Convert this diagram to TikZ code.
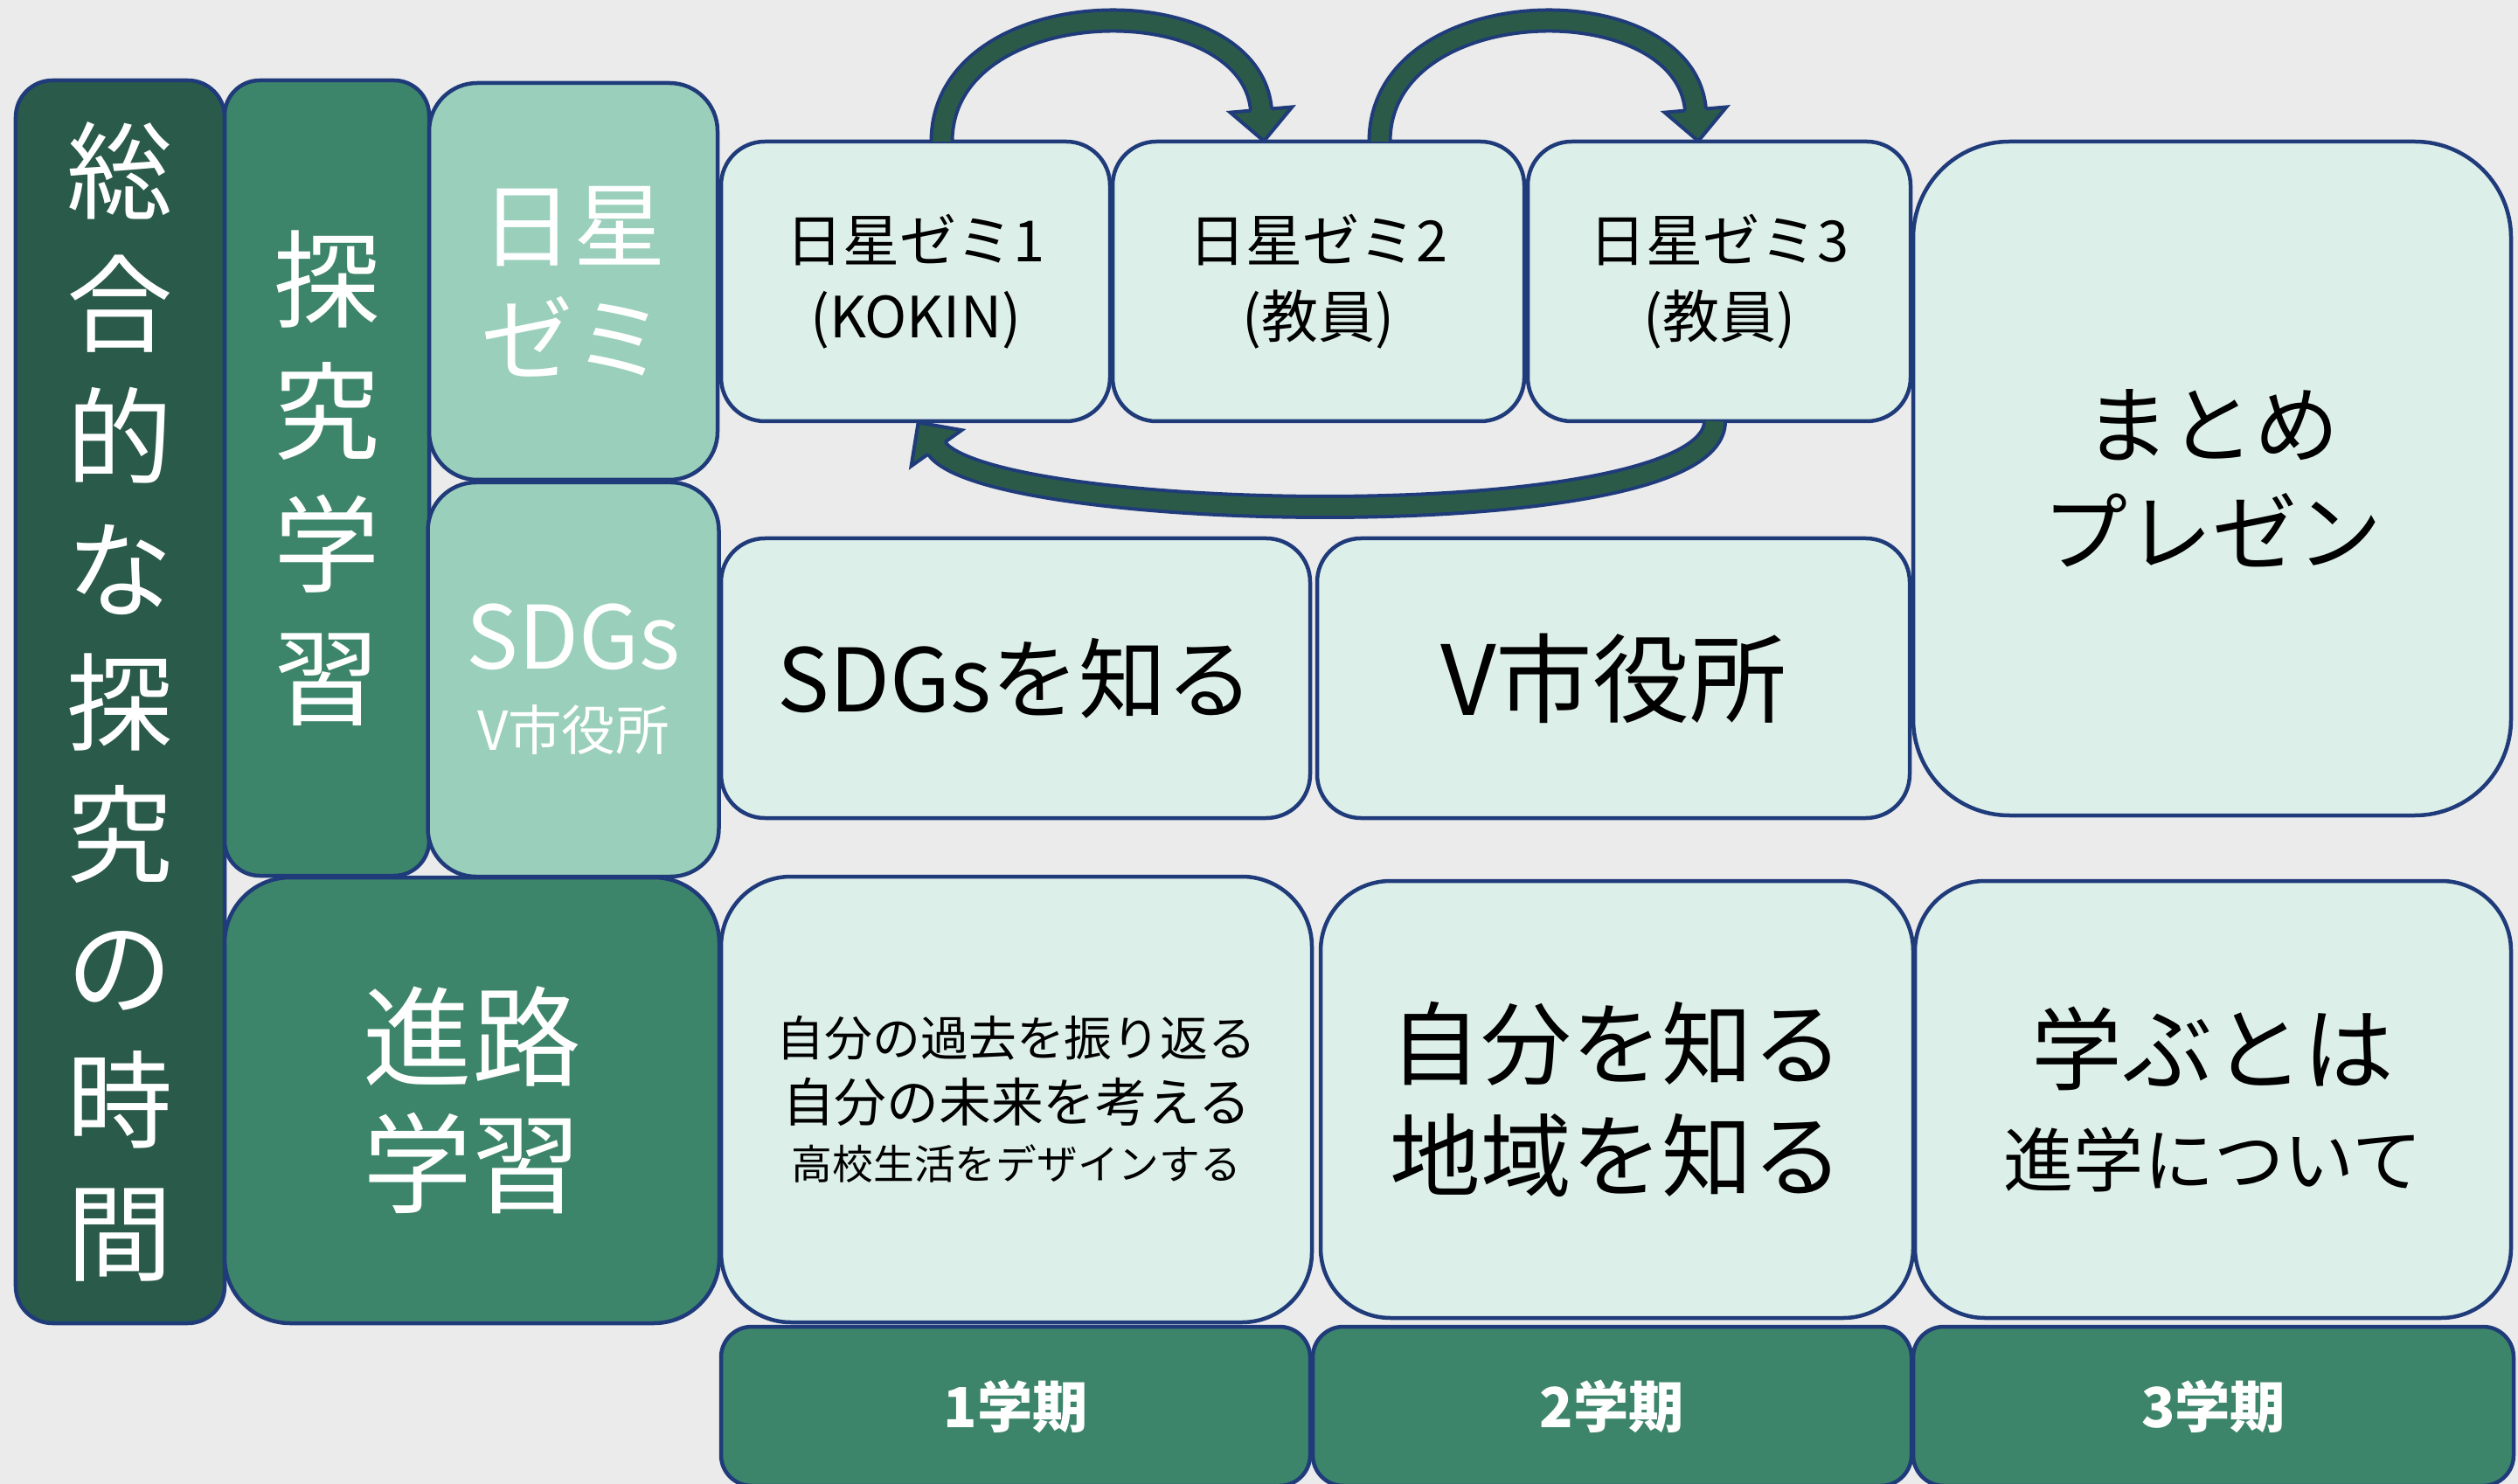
\documentclass[tikz,border=0pt]{standalone}
\usepackage{fontspec}
\setmainfont{Noto Sans CJK JP}
\usepackage{tikz}
\usepackage{xcolor}
\usetikzlibrary{positioning, decorations.markings}

\definecolor{bggray}{HTML}{EBEBEB}
\definecolor{linenavy}{HTML}{1F3B7A}
\definecolor{deepgreen}{HTML}{2A5A4A}
\definecolor{midgreen}{HTML}{3D856A}
\definecolor{palegreen}{HTML}{9ACFBC}
\definecolor{cellmint}{HTML}{DDEFE9}
\definecolor{arrowgreen}{HTML}{2B5B48}

\tikzstyle{block} = [rectangle, draw=linenavy, line width=0.045cm, inner sep=0pt, outer sep=0pt, align=center]
\tikzstyle{darkblock} = [block, fill=deepgreen, text=white]
\tikzstyle{greenblock} = [block, fill=midgreen, text=white]
\tikzstyle{paleblock} = [block, fill=palegreen, text=white]
\tikzstyle{cell} = [block, fill=cellmint, text=black]
\tikzstyle{loopband} = [draw=linenavy, line width=0.04cm, double=arrowgreen, double distance=0.2cm]
\tikzstyle{loophead} = [decorate, decoration={markings, mark=at position 0.999 with {\filldraw[fill=arrowgreen, draw=linenavy, line width=0.04cm] (0,0.12) -- (0,0.355) -- (0.36,0) -- (0,-0.355) -- (0,-0.12);}}]

\begin{document}
\begin{tikzpicture}

\useasboundingbox (0,0) rectangle (28.81,-16.98);
\clip (0,0) rectangle (28.81,-16.98);
\fill [bggray] (0,0) rectangle (28.81,-16.98);

% left columns
\node (sogo) [darkblock, anchor=north west, minimum width=2.39cm, minimum height=14.22cm, rounded corners=0.42cm, font=\fontsize{34.5}{43.2}\selectfont] at (0.18,-0.92) {総\\合\\的\\な\\探\\究\\の\\時\\間};

\node (tankyu) [greenblock, right=0cm of sogo.north east, anchor=north west, minimum width=2.34cm, minimum height=9.10cm, rounded corners=0.4cm, font=\fontsize{34.5}{43.2}\selectfont] {探\\究\\学\\習};

\node (zemi) [paleblock, right=0cm of tankyu.north east, anchor=north west, yshift=-0.03cm, minimum width=3.30cm, minimum height=4.54cm, rounded corners=0.55cm, font=\fontsize{30}{37}\selectfont] {日星\\ゼミ};

\node (sdgscol) [paleblock, below=0.03cm of zemi, minimum width=3.33cm, minimum height=4.51cm, rounded corners=0.55cm, font=\fontsize{17.5}{26.5}\selectfont] {{\fontsize{28.5}{26.5}\selectfont SDGs}\\V市役所};

\node (shinro) [greenblock, below=0.02cm of tankyu.south west, anchor=north west, minimum width=5.66cm, minimum height=5.10cm, rounded corners=0.75cm, font=\fontsize{35.5}{41.3}\selectfont] {進路\\学習};

% seminar row
\node (zemi1) [cell, right=0.04cm of zemi.north east, anchor=north west, yshift=-0.67cm, minimum width=4.45cm, minimum height=3.20cm, rounded corners=0.5cm, font=\fontsize{18.5}{24.8}\selectfont] {日星ゼミ1\\(KOKIN)};

\node (zemi2) [cell, right=0.03cm of zemi1, minimum width=4.71cm, minimum height=3.20cm, rounded corners=0.5cm, font=\fontsize{18.5}{24.8}\selectfont] {日星ゼミ2\\(教員)};

\node (zemi3) [cell, right=0.04cm of zemi2, minimum width=4.38cm, minimum height=3.20cm, rounded corners=0.5cm, font=\fontsize{18.5}{24.8}\selectfont] {日星ゼミ3\\(教員)};

\node (matome) [cell, right=0.03cm of zemi3.north east, anchor=north west, minimum width=6.84cm, minimum height=7.71cm, rounded corners=1.1cm, font=\fontsize{27.6}{35}\selectfont] {まとめ\\プレゼン};

% SDGs row
\node (sdgsknow) [cell, below=1.34cm of zemi1.south west, anchor=north west, minimum width=6.74cm, minimum height=3.20cm, rounded corners=0.5cm, font=\fontsize{28.5}{34}\selectfont] {SDGsを知る};

\node (vcity) [cell, right=0.08cm of sdgsknow, minimum width=6.78cm, minimum height=3.20cm, rounded corners=0.5cm, font=\fontsize{31.5}{34}\selectfont] {V市役所};

% career row
\node (past) [cell, below=0.67cm of sdgsknow.south west, anchor=north west, minimum width=6.76cm, minimum height=5.10cm, rounded corners=0.8cm, font=\fontsize{17}{21.3}\selectfont] {{\fontsize{15.6}{21.3}\selectfont 自分の過去を振り返る}\\自分の未来を考える\\[-2.3pt]{\fontsize{13.3}{19}\selectfont 高校生活をデザインする}};

\node (self) [cell, right=0.1cm of past, minimum width=6.78cm, minimum height=5.00cm, rounded corners=0.8cm, font=\fontsize{29.5}{36.4}\selectfont] {自分を知る\\地域を知る};

\node (manabu) [cell, right=0.02cm of self, minimum width=6.82cm, minimum height=5.00cm, rounded corners=0.8cm, font=\fontsize{22.8}{33.6}\selectfont] {{\fontsize{29.5}{33.6}\selectfont 学ぶとは}\\進学について};

% terms
\node (term1) [greenblock, below=0.05cm of past.south west, anchor=north west, minimum width=6.74cm, minimum height=1.82cm, rounded corners=0.35cm, font=\fontsize{18}{20}\selectfont\bfseries] {1学期};

\node (term2) [greenblock, right=0.03cm of term1, minimum width=6.85cm, minimum height=1.82cm, rounded corners=0.35cm, font=\fontsize{18}{20}\selectfont\bfseries] {2学期};

\node (term3) [greenblock, right=0.02cm of term2, minimum width=6.87cm, minimum height=1.82cm, rounded corners=0.35cm, font=\fontsize{18}{20}\selectfont\bfseries] {3学期};

% Arrows
\draw [loopband] ([xshift=0.3cm]zemi1.north) .. controls +(0,1.75) and +(-0.12,1.45) .. ([xshift=-0.655cm, yshift=0.36cm]zemi2.north);
\path [loophead] ([xshift=0.3cm]zemi1.north) .. controls +(0,1.75) and +(-0.12,1.45) .. ([xshift=-0.655cm, yshift=0.36cm]zemi2.north);

\draw [loopband] ([xshift=0.7cm]zemi2.north) .. controls +(0,1.75) and +(-0.12,1.45) .. ([xshift=-0.27cm, yshift=0.36cm]zemi3.north);
\path [loophead] ([xshift=0.7cm]zemi2.north) .. controls +(0,1.75) and +(-0.12,1.45) .. ([xshift=-0.27cm, yshift=0.36cm]zemi3.north);

\draw [loopband] ([xshift=-0.05cm]zemi3.south) .. controls +(0,-1.33) and +(0.58,-0.88) .. ([xshift=0.235cm, yshift=-0.3cm]zemi1.south);
\path [loophead] ([xshift=-0.05cm]zemi3.south) .. controls +(0,-1.33) and +(0.58,-0.88) .. ([xshift=0.235cm, yshift=-0.3cm]zemi1.south);

\end{tikzpicture}
\end{document}
